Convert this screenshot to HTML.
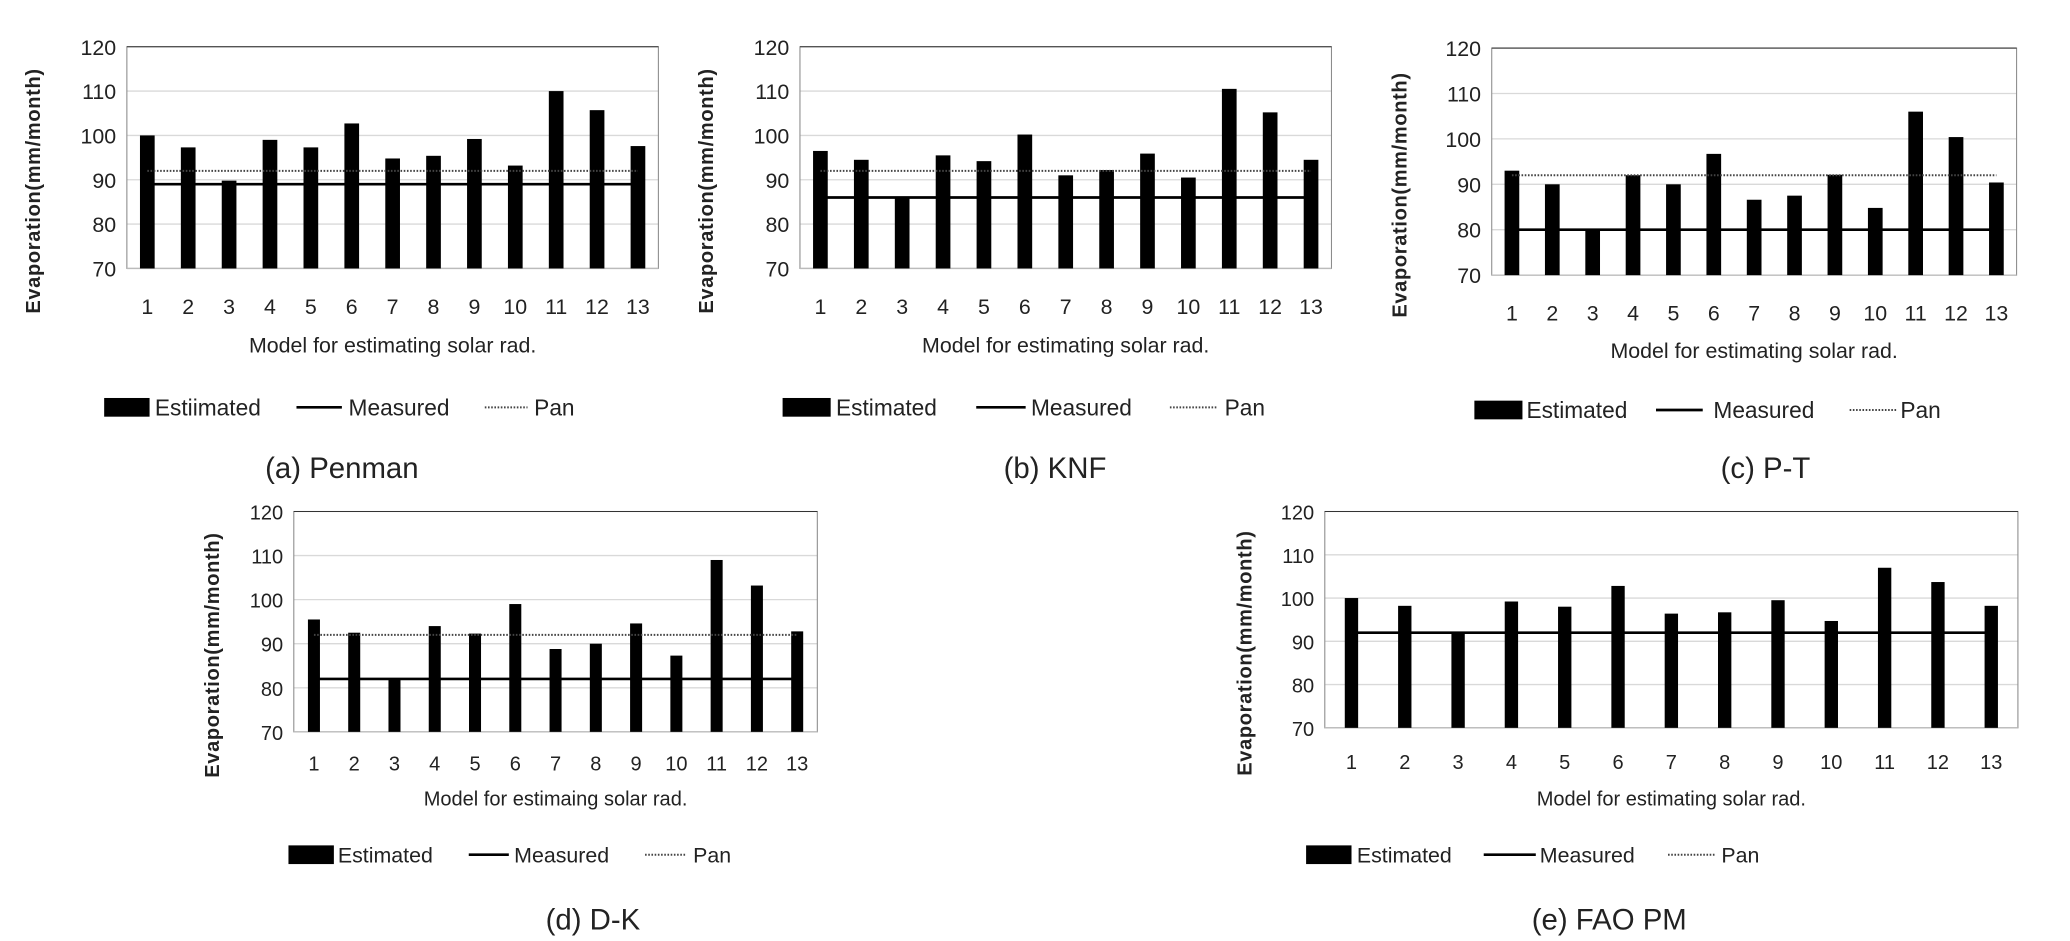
<!DOCTYPE html>
<html><head><meta charset="utf-8"><style>
html,body{margin:0;padding:0;background:#fff;}
svg{display:block;}
text{font-family:"Liberation Sans",sans-serif;fill:#222;}
</style></head><body>
<svg id="s" width="2070" height="941" viewBox="0 0 1550 704.6" preserveAspectRatio="none" xmlns="http://www.w3.org/2000/svg"></svg>
<script>
const charts=[
{x0:95,x1:493,y0:35,y1:201,meas:89,pan:92,bw:11,lab:229,tt:259,ax:30,
 v:[100,97.3,89.8,99,97.3,102.7,94.8,95.4,99.2,93.2,110,105.7,97.6],
 leg:305,lg:[78,112,116,222,256,261,363,395,400],est:"Estiimated",cap:"(a) Penman",cx:196,cy:350},
{x0:599,x1:997,y0:35,y1:201,meas:86,pan:92,bw:11,lab:229,tt:259,ax:534,
 v:[96.5,94.5,86,95.5,94.2,100.2,91,92.2,95.9,90.5,110.5,105.2,94.5],
 leg:305,lg:[586,622,626,731,768,772,876,912,917],est:"Estimated",cap:"(b) KNF",cx:730,cy:350},
{x0:1117,x1:1510,y0:36,y1:206,meas:80,pan:92,bw:11,lab:234,tt:263,ax:1053,
 v:[93,90,80,92,90,96.7,86.6,87.5,92.1,84.8,106,100.4,90.4],
 leg:307,lg:[1104,1140,1143,1240,1275,1283,1385,1420,1423],est:"Estimated",cap:"(c) P-T",cx:1262,cy:350},
{x0:220,x1:612,y0:383,y1:548,meas:82,pan:92,bw:9,lab:571,tt:598,ax:164,
 v:[95.5,92.5,82,94,92.3,99,88.8,90,94.6,87.3,109,103.2,92.8],
 leg:640,lg:[216,250,253,351,381,385,483,514,519],est:"Estimated",cap:"(d) D-K",cx:384,cy:688,fs:15},
{x0:992,x1:1511,y0:383,y1:545,meas:92,pan:92,bw:10,lab:570,tt:598,ax:937,
 v:[100,98.2,92,99.2,98,102.8,96.4,96.7,99.5,94.7,107,103.7,98.2],
 leg:640,lg:[978,1012,1016,1111,1150,1153,1249,1285,1289],est:"Estimated",cap:"(e) FAO PM",cx:1145,cy:688,fs:15}
];
let h="";
for(const c of charts){
 const fs=c.fs||16;
 const Y=v=>c.y1-(v-70)/50*(c.y1-c.y0);
 for(let t=80;t<120;t+=10)h+=`<line x1="${c.x0}" x2="${c.x1}" y1="${Y(t)}" y2="${Y(t)}" stroke="#d9d9d9" stroke-width="1"/>`;
 h+=`<rect x="${c.x0}" y="${c.y0}" width="${c.x1-c.x0}" height="${c.y1-c.y0}" fill="none" stroke="#8c8c8c" stroke-width="0.8"/>`;
 h+=`<line x1="${c.x0}" x2="${c.x1}" y1="${c.y0}" y2="${c.y0}" stroke="#333" stroke-width="0.8"/>`;
 h+=`<line x1="${c.x0}" x2="${c.x1}" y1="${c.y1}" y2="${c.y1}" stroke="#bbb" stroke-width="1"/>`;
 for(let t=70;t<=120;t+=10)h+=`<text x="${c.x0-8}" y="${Y(t)+6}" font-size="${fs}" text-anchor="end">${t}</text>`;
 const cw=(c.x1-c.x0)/13;
 c.v.forEach((v,i)=>{const cx=c.x0+cw*(i+.5);
  h+=`<rect x="${cx-c.bw/2}" y="${Y(v)}" width="${c.bw}" height="${c.y1-Y(v)}" fill="#000"/>`;
  h+=`<text x="${cx}" y="${c.lab+6}" font-size="${fs}" text-anchor="middle">${i+1}</text>`;});
 const l0=c.x0+cw/2,l1=c.x1-cw/2;
 h+=`<line x1="${l0}" x2="${l1}" y1="${Y(c.pan)}" y2="${Y(c.pan)}" stroke="#444" stroke-width="1.5" stroke-dasharray="1.2 1.2"/>`;
 h+=`<line x1="${l0}" x2="${l1}" y1="${Y(c.meas)}" y2="${Y(c.meas)}" stroke="#000" stroke-width="2"/>`;
 const tt=c.cap=="(d) D-K"?"Model for estimaing solar rad.":"Model for estimating solar rad.";
 h+=`<text x="${(c.x0+c.x1)/2}" y="${c.tt+5}" font-size="${fs}" text-anchor="middle">${tt}</text>`;
 const my=(c.y0+c.y1)/2+25;
 h+=`<text x="${c.ax}" y="${my}" font-size="15" font-weight="bold" text-anchor="middle" transform="rotate(-90 ${c.ax} ${my})" letter-spacing="0.5">Evaporation(mm/month)</text>`;
 const g=c.lg,ly=c.leg;
 h+=`<rect x="${g[0]}" y="${ly-7}" width="${g[1]-g[0]}" height="14" fill="#000"/>`;
 h+=`<text x="${g[2]}" y="${ly+6}" font-size="${fs+1}">${c.est}</text>`;
 h+=`<line x1="${g[3]}" x2="${g[4]}" y1="${ly}" y2="${ly}" stroke="#000" stroke-width="2"/>`;
 h+=`<text x="${g[5]}" y="${ly+6}" font-size="${fs+1}">Measured</text>`;
 h+=`<line x1="${g[6]}" x2="${g[7]}" y1="${ly}" y2="${ly}" stroke="#444" stroke-width="1.5" stroke-dasharray="1.2 1.2"/>`;
 h+=`<text x="${g[8]}" y="${ly+6}" font-size="${fs+1}">Pan</text>`;
 h+=`<text x="${c.cx+60}" y="${c.cy+8}" font-size="22" text-anchor="middle">${c.cap}</text>`;
}
document.getElementById("s").innerHTML=h;
</script>
</body></html>
